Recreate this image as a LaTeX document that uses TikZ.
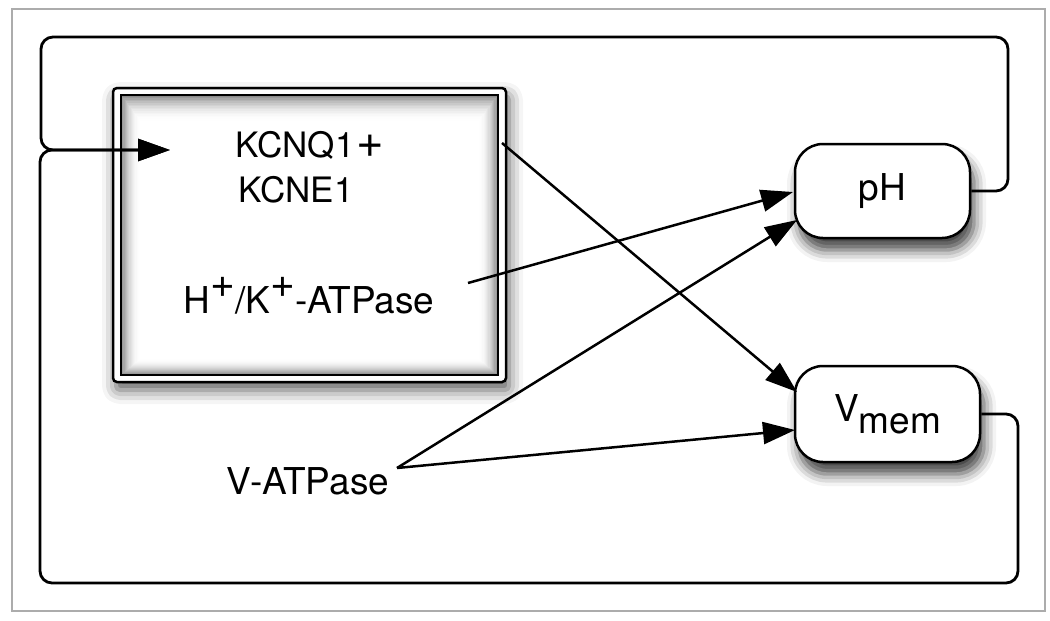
\documentclass[tikz,border=0pt]{standalone}
\usepackage{fontspec}
\setmainfont{TeX Gyre Heros}
\usetikzlibrary{arrows.meta,shadows.blur}
\begin{document}
\begin{tikzpicture}[x=1pt,y=-1pt,
  tip/.tip={Triangle[length=32pt,width=22pt,fill=black]},
  conn/.style={line width=2.5pt,draw=black,opacity=1,-tip},
  fb/.style={line width=2.8pt,draw=black,opacity=1,rounded corners=12pt},
  state/.style={draw,line width=2.5pt,rounded corners=28pt,fill=white,inner sep=0pt,
    font=\fontsize{37}{44}\selectfont,
    blur shadow={shadow xshift=4pt,shadow yshift=-12pt,shadow blur radius=12pt,shadow opacity=75}},
  lbl/.style={inner sep=0pt,font=\fontsize{35}{44}\selectfont},
  big/.style={inner sep=0pt,font=\fontsize{37}{44}\selectfont}
]
\useasboundingbox (0,0) rectangle (1050,621);
\draw[gray!65,line width=1.5pt] (12,9) rectangle (1045,611);
% main box
\begin{scope}
\path[fill=white,rounded corners=4pt,
  blur shadow={shadow xshift=3pt,shadow yshift=-8pt,shadow blur radius=14pt,shadow opacity=65}]
  (113,88) rectangle (506,382);
\end{scope}
\begin{scope}[opacity=1]
\foreach \i in {0,...,16}
  {\pgfmathsetmacro\g{45*(1-\i/16)^2}
   \fill[black!\g!white] (121+1.2*\i,95+1.6*\i) rectangle (498-1.2*\i,375-1.0*\i);}
\end{scope}
\draw[line width=2.5pt,opacity=1,rounded corners=4pt] (113,88) rectangle (506,382);
\draw[line width=2.5pt,opacity=1] (121,95) rectangle (498,375);
\node[minimum width=393pt,minimum height=294pt,inner sep=0pt] (main) at (309.5,235) {};
\node[lbl,anchor=base] (kcnq) at (310,157) {KCNQ1\kern2pt\scalebox{1.35}{+}};
\node[lbl,anchor=base] (kcne) at (296,202) {KCNE1};
\node[big,anchor=base] (hk) at (309,313) {H\raisebox{0.42em}{\scalebox{1.15}{+}}/K\raisebox{0.42em}{\scalebox{1.15}{+}}-ATPase};
\node[big,anchor=base] (vat) at (308,494) {V-ATPase};
% state nodes
\begin{scope}
\node[state,minimum width=175pt,minimum height=94pt] (ph) at (882.5,191) {pH};
\end{scope}
\begin{scope}
\node[state,minimum width=185pt,minimum height=96pt] (vm) at (887.5,414) {\raisebox{0.32em}{V}mem};
\end{scope}
% anchor coordinates
\coordinate (in) at (170,150);
\coordinate (mainout) at (502,143);
\coordinate (hkout) at (468,283);
\coordinate (vatout) at (397,468);
% feedback loops
\draw[fb,-tip] (ph.east) -- (1008,191) -- (1008,37) -- (41,37) -- (41,150) -- (in);
\draw[fb,-tip] (vm.east) -- (1018,414) -- (1018,583) -- (40,583) -- (40,150) -- (in);
% influences
\draw[conn] (mainout) -- (797,392);
\draw[conn] (hkout) -- (793,192);
\draw[conn] (vatout) -- (797,220);
\draw[conn] (vatout) -- (795,430);
\end{tikzpicture}
\end{document}
